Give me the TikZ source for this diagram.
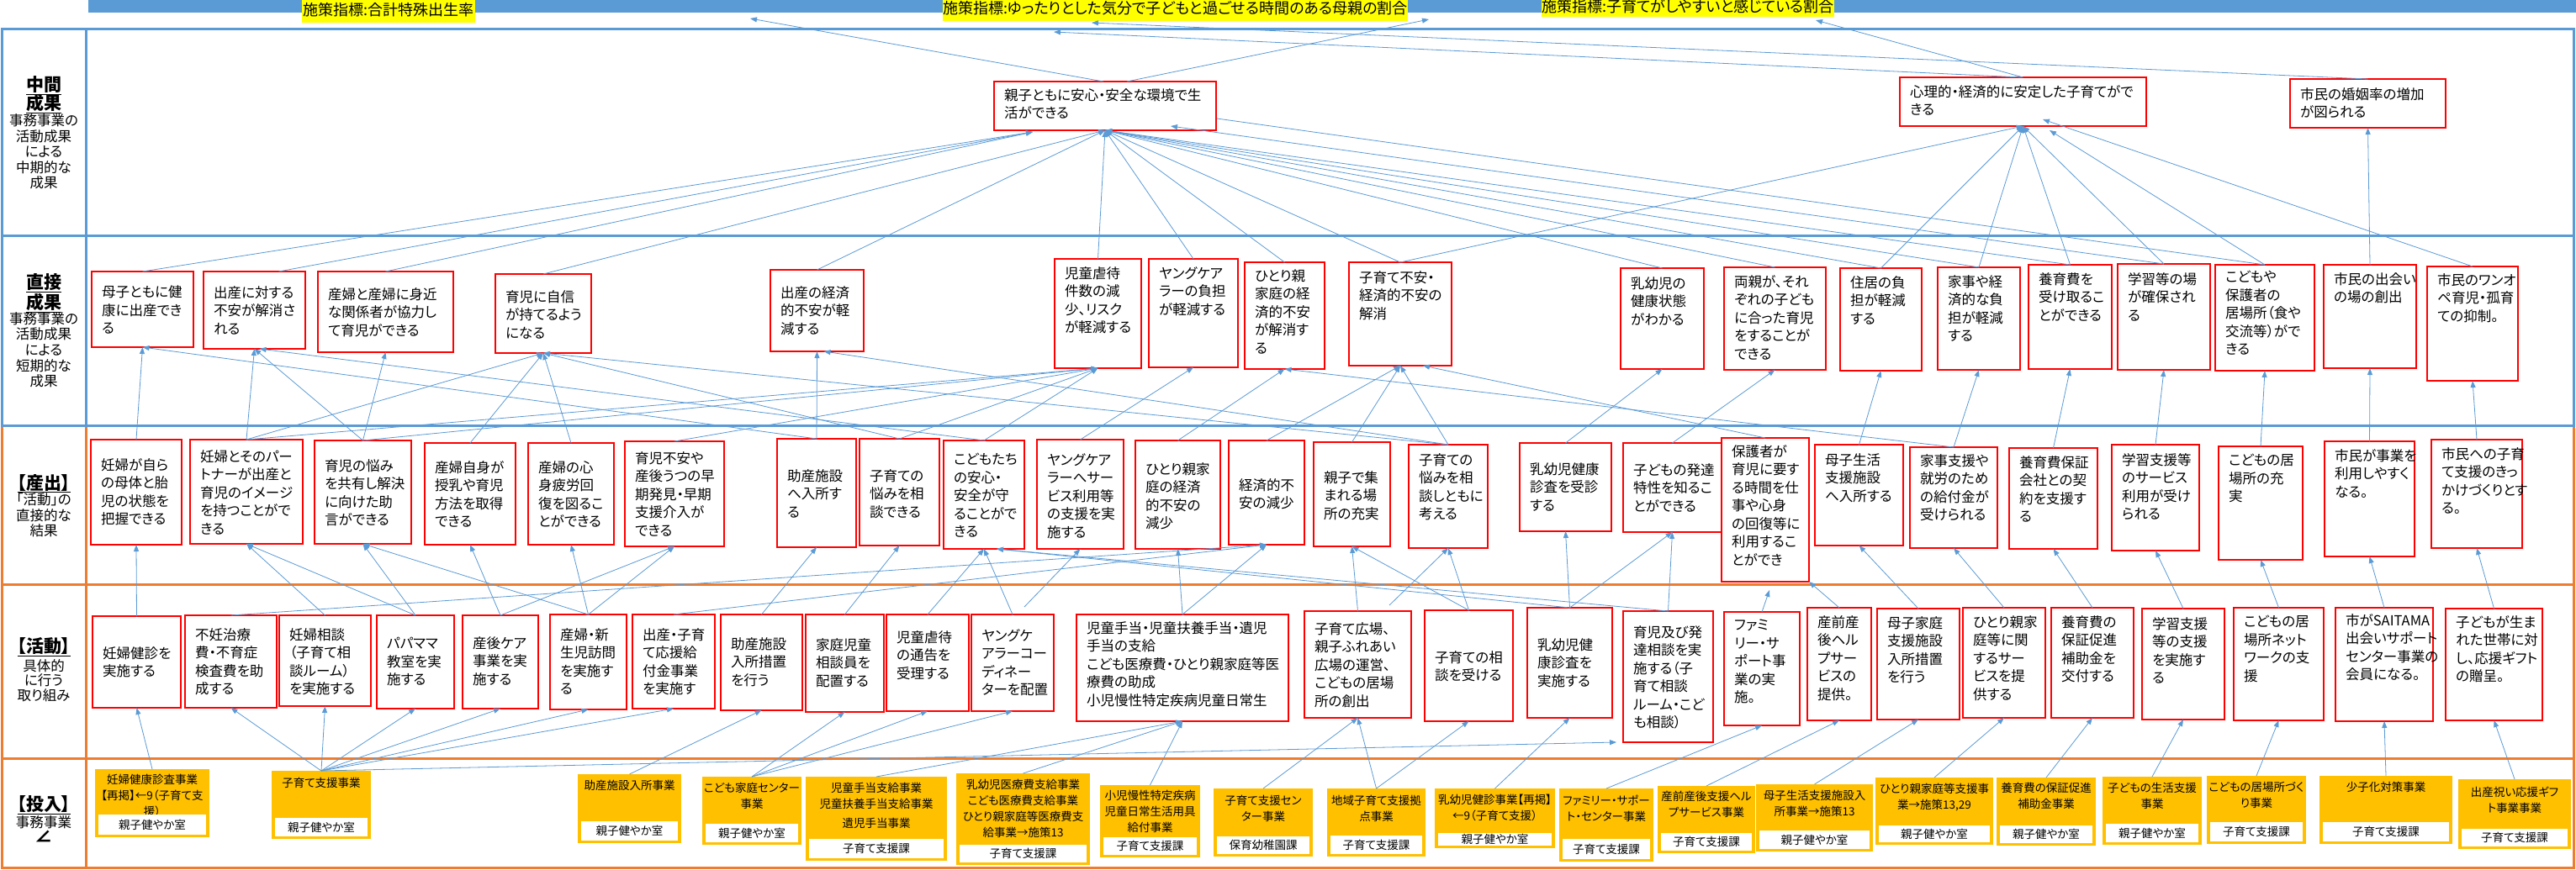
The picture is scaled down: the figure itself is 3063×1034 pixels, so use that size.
\documentclass[tikz,border=0pt]{standalone}
\usepackage{fontspec}
\setmainfont{Noto Sans CJK JP}[RawFeature=+palt]
\usetikzlibrary{arrows.meta}
\definecolor{cblue}{RGB}{91,155,213}
\definecolor{corange}{RGB}{237,125,49}
\definecolor{cgold}{RGB}{255,192,0}
\definecolor{cyel}{RGB}{255,255,0}
\tikzset{
 rbox/.style={draw=red, line width=2.8pt, fill=white, inner sep=0pt, outer sep=0pt},
 btxt/.style={inner sep=0pt, align=left, font=\fontsize{16.5}{21.5}\selectfont, anchor=north west},
 ibox/.style={fill=cgold, inner sep=0pt, outer sep=0pt},
 wbox/.style={fill=white, inner sep=0pt, outer sep=0pt},
 itxt/.style={inner sep=0pt, align=center, font=\fontsize{13.5}{19}\selectfont, anchor=north},
 dtxt/.style={inner sep=0pt, font=\fontsize{13.5}{16}\selectfont},
 con/.style={draw=cblue, line width=0.8pt, -{Triangle[length=8pt,width=6pt]}},
 plainc/.style={draw=cblue, line width=0.8pt},
 frameb/.style={draw=cblue, line width=3pt},
 frameo/.style={draw=corange, line width=3pt},
 ylab/.style={fill=cyel, inner sep=0pt, font=\fontsize{18}{20}\selectfont, anchor=north west},
 lh/.style={inner sep=0pt, font=\bfseries\fontsize{21}{24}\selectfont},
 ls/.style={inner sep=0pt, font=\fontsize{16.5}{19}\selectfont}
}
\newcommand\rb[7]{%
 \node[rbox, anchor=north west, minimum width={(#4-#2)*1pt}, minimum height={(#5-#3)*1pt}] (#1) at (#2,#3) {};
 \node[btxt] (#1t) at ({#2+12},{#6-8}) {#7};}
\newcommand\ib[9]{%
 \node[ibox, anchor=north west, minimum width={(#4-#2)*1pt}, minimum height={(#5-#3)*1pt}] (#1) at (#2,#3) {};
 \node[itxt] (#1t) at ({(#2+#4)/2},{#7-7}) {#8};
 \node[wbox, anchor=north west, minimum width={(#4-#2-8)*1pt}, minimum height={(#5-3-#6)*1pt}] (#1w) at ({#2+4},#6) {};
 \node[dtxt] (#1d) at (#1w.center) {#9};}
\begin{document}
\begin{tikzpicture}[x=1pt,y=-1pt]
\useasboundingbox (0,0) rectangle (3063,1034);
\fill[white] (0,0) rectangle (3063,1034);
% top bar and indicator labels
\fill[cblue] (105,-5) rectangle (3063,15);
\node[ylab, minimum width=206pt, minimum height=32pt] (L1) at (359,-5) {施策指標:合計特殊出生率};
\node[ylab, minimum width=524pt, minimum height=32pt] (L2) at (1121,-7) {施策指標:ゆったりとした気分で子どもと過ごせる時間のある母親の割合};
\node[ylab, minimum width=346pt, minimum height=26pt] (L3) at (1833,-6) {施策指標:子育てがしやすいと感じている割合};
% frames
\draw[frameo] (2,506) rectangle (3060,1032);
\draw[frameo] (2,695) -- (3060,695);
\draw[frameo] (2,902) -- (3060,902);
\draw[frameo] (102,506) -- (102,1032);
\draw[frameb] (2,34) rectangle (3060,506);
\draw[frameb] (2,280) -- (3060,280);
\draw[frameb] (102,34) -- (102,506);
% left headings
\node[lh] (h1a) at (52,102) {\underline{中間}};
\node[lh] (h1b) at (52,123) {\underline{成果}};
\node[ls] (h1c) at (52,143) {事務事業の};
\node[ls] (h1d) at (52,162) {活動成果};
\node[ls] (h1e) at (52,180) {による};
\node[ls] (h1f) at (52,199) {中期的な};
\node[ls] (h1g) at (52,217) {成果};
\node[lh] (h2a) at (52,337) {\underline{直接}};
\node[lh] (h2b) at (52,360) {\underline{成果}};
\node[ls] (h2c) at (52,379) {事務事業の};
\node[ls] (h2d) at (52,397) {活動成果};
\node[ls] (h2e) at (52,416) {による};
\node[ls] (h2f) at (52,435) {短期的な};
\node[ls] (h2g) at (52,453) {成果};
\node[lh] (h3a) at (52,575) {\underline{【産出】}};
\node[ls] (h3b) at (52,594) {「活動」の};
\node[ls] (h3c) at (52,613) {直接的な};
\node[ls] (h3d) at (52,631) {結果};
\node[lh] (h4a) at (52,770) {\underline{【活動】}};
\node[ls] (h4b) at (52,792) {具体的};
\node[ls] (h4c) at (52,809) {に行う};
\node[ls] (h4d) at (52,827) {取り組み};
\node[lh] (h5a) at (52,958) {\underline{【投入】}};
\node[ls] (h5b) at (52,978) {事務事業};
\node[lh] (h5c) at (52,995) {∠};
% intermediate outcomes
\rb{M1}{1182}{97}{1446}{155}{113}{親子ともに安心・安全な環境で生\\活ができる}
\rb{M2}{2259}{92}{2552}{150}{109}{心理的・経済的に安定した子育てがで\\きる}
\rb{M3}{2723}{94}{2908}{152}{112}{市民の婚姻率の増加\\が図られる}
% direct outcomes
\rb{D1}{109}{323}{230}{413}{348}{母子ともに健\\康に出産でき\\る}
\rb{D2}{242}{323}{363}{415}{348}{出産に対する\\不安が解消さ\\れる}
\rb{D3}{378}{323}{539}{419}{350}{産婦と産婦に身近\\な関係者が協力し\\て育児ができる}
\rb{D4}{589}{326}{703}{420}{353}{育児に自信\\が持てるよう\\になる}
\rb{D5}{916}{321}{1027}{418}{348}{出産の経済\\的不安が軽\\減する}
\rb{D6}{1254}{308}{1357}{438}{325}{児童虐待\\件数の減\\少、リスク\\が軽減する}
\rb{D7}{1366}{308}{1472}{437}{325}{ヤングケア\\ラーの負担\\が軽減する}
\rb{D8}{1480}{312}{1575}{439}{328}{ひとり親\\家庭の経\\済的不安\\が解消す\\る}
\rb{D9}{1604}{312}{1726}{435}{330}{子育て不安・\\経済的不安の\\解消}
\rb{D10}{1927}{319}{2026}{439}{337}{乳幼児の\\健康状態\\がわかる}
\rb{D11}{2050}{318}{2171}{440}{335}{両親が、それ\\ぞれの子ども\\に合った育児\\をすることが\\できる}
\rb{D12}{2188}{319}{2285}{441}{336}{住居の負\\担が軽減\\する}
\rb{D13}{2304}{318}{2402}{440}{335}{家事や経\\済的な負\\担が軽減\\する}
\rb{D14}{2412}{315}{2511}{439}{332}{養育費を\\受け取るこ\\とができる}
\rb{D15}{2518}{314}{2628}{440}{332}{学習等の場\\が確保され\\る}
\rb{D16}{2634}{315}{2752}{441}{330}{こどもや\\保護者の\\居場所（食や\\交流等）がで\\きる}
\rb{D17}{2763}{315}{2873}{438}{332}{市民の出会い\\の場の創出}
\rb{D18}{2886}{317}{2994}{453}{333}{市民のワンオ\\ペ育児・孤育\\ての抑制。}
% outputs
\rb{P1}{108}{523}{216}{648}{553}{妊婦が自ら\\の母体と胎\\児の状態を\\把握できる}
\rb{P2}{226}{523}{360}{647}{543}{妊婦とそのパー\\トナーが出産と\\育児のイメージ\\を持つことがで\\きる}
\rb{P3}{374}{524}{489}{647}{554}{育児の悩み\\を共有し解決\\に向けた助\\言ができる}
\rb{P4}{505}{527}{613}{648}{556}{産婦自身が\\授乳や育児\\方法を取得\\できる}
\rb{P5}{628}{527}{730}{648}{556}{産婦の心\\身疲労回\\復を図るこ\\とができる}
\rb{P6}{743}{525}{861}{650}{545}{育児不安や\\産後うつの早\\期発見・早期\\支援介入が\\できる}
\rb{P7}{924}{522}{1018}{651}{566}{助産施設\\へ入所す\\る}
\rb{P8}{1022}{522}{1117}{649}{566}{子育ての\\悩みを相\\談できる}
\rb{P9}{1122}{524}{1218}{653}{547}{こどもたち\\の安心・\\安全が守\\ることがで\\きる}
\rb{P10}{1233}{523}{1336}{653}{547}{ヤングケア\\ラーへサー\\ビス利用等\\の支援を実\\施する}
\rb{P11}{1350}{524}{1451}{653}{558}{ひとり親家\\庭の経済\\的不安の\\減少}
\rb{P12}{1461}{524}{1551}{648}{577}{経済的不\\安の減少}
\rb{P13}{1562}{526}{1653}{650}{568}{親子で集\\まれる場\\所の充実}
\rb{P14}{1675}{529}{1769}{652}{547}{子育ての\\悩みを相\\談しともに\\考える}
\rb{P15}{1807}{527}{1916}{632}{558}{乳幼児健康\\診査を受診\\する}
\rb{P16}{1930}{527}{2047}{633}{559}{子どもの発達\\特性を知るこ\\とができる}
\rb{P17}{2047}{521}{2151}{692}{537}{保護者が\\育児に要す\\る時間を仕\\事や心身\\の回復等に\\利用するこ\\とができ}
\rb{P18}{2158}{529}{2263}{649}{547}{母子生活\\支援施設\\へ入所する}
\rb{P19}{2271}{532}{2375}{652}{548}{家事支援や\\就労のため\\の給付金が\\受けられる}
\rb{P20}{2389}{533}{2494}{653}{550}{養育費保証\\会社との契\\約を支援す\\る}
\rb{P21}{2511}{529}{2615}{655}{547}{学習支援等\\のサービス\\利用が受け\\られる}
\rb{P22}{2638}{531}{2738}{666}{548}{こどもの居\\場所の充\\実}
\rb{P23}{2764}{525}{2871}{662}{542}{市民が事業を\\利用しやすく\\なる。}
\rb{P24}{2891}{523}{2999}{652}{540}{市民への子育\\て支援のきっ\\かけづくりとす\\る。}
% activities
\rb{A1}{110}{733}{215}{842}{777}{妊婦健診を\\実施する}
\rb{A2}{220}{732}{329}{842}{755}{不妊治療\\費・不育症\\検査費を助\\成する}
\rb{A3}{332}{732}{441}{840}{755}{妊婦相談\\（子育て相\\談ルーム）\\を実施する}
\rb{A4}{448}{732}{540}{843}{766}{パパママ\\教室を実\\施する}
\rb{A5}{550}{732}{640}{843}{765}{産後ケア\\事業を実\\施する}
\rb{A6}{654}{731}{745}{844}{755}{産婦・新\\生児訪問\\を実施す\\る}
\rb{A7}{752}{731}{850}{843}{755}{出産・子育\\て応援給\\付金事業\\を実施す}
\rb{A8}{857}{731}{954}{845}{766}{助産施設\\入所措置\\を行う}
\rb{A9}{958}{731}{1051}{847}{767}{家庭児童\\相談員を\\配置する}
\rb{A10}{1054}{731}{1152}{846}{758}{児童虐待\\の通告を\\受理する}
\rb{A11}{1155}{731}{1253}{846}{756}{ヤングケ\\アラーコー\\ディネー\\ターを配置}
\rb{A12}{1280}{731}{1532}{858}{747}{児童手当・児童扶養手当・遺児\\手当の支給\\こども医療費・ひとり親家庭等医\\療費の助成\\小児慢性特定疾病児童日常生}
\rb{A13}{1551}{727}{1678}{854}{748}{子育て広場、\\親子ふれあい\\広場の運営、\\こどもの居場\\所の創出}
\rb{A14}{1694}{726}{1799}{858}{782}{子育ての相\\談を受ける}
\rb{A15}{1816}{723}{1917}{854}{767}{乳幼児健\\康診査を\\実施する}
\rb{A16}{1930}{727}{2037}{883}{752}{育児及び発\\達相談を実\\施する（子\\育て相談\\ルーム・こど\\も相談）}
\rb{A17}{2050}{728}{2140}{863}{745}{ファミ\\リー・サ\\ポート事\\業の実\\施。}
\rb{A18}{2149}{723}{2225}{857}{740}{産前産\\後ヘル\\プサー\\ビスの\\提供。}
\rb{A19}{2232}{724}{2330}{856}{741}{母子家庭\\支援施設\\入所措置\\を行う}
\rb{A20}{2334}{723}{2432}{854}{740}{ひとり親家\\庭等に関\\するサー\\ビスを提\\供する}
\rb{A21}{2439}{723}{2537}{854}{740}{養育費の\\保証促進\\補助金を\\交付する}
\rb{A22}{2547}{724}{2645}{856}{742}{学習支援\\等の支援\\を実施す\\る}
\rb{A23}{2656}{723}{2763}{857}{740}{こどもの居\\場所ネット\\ワークの支\\援}
\rb{A24}{2777}{723}{2893}{858}{738}{市がSAITAMA\\出会いサポート\\センター事業の\\会員になる。}
\rb{A25}{2908}{724}{3023}{857}{740}{子どもが生ま\\れた世帯に対\\し、応援ギフト\\の贈呈。}
% inputs
\ib{I1}{113}{915}{249}{996}{969}{928}{妊婦健康診査事業\\【再掲】←9（子育て支\\援）}{親子健やか室}
\ib{I2}{323}{917}{441}{998}{973}{932}{子育て支援事業}{親子健やか室}
\ib{I3}{687}{921}{810}{1003}{977}{935}{助産施設入所事業}{親子健やか室}
\ib{I4}{835}{924}{953}{1005}{980}{938}{こども家庭センター\\事業}{親子健やか室}
\ib{I5}{958}{924}{1126}{1024}{998}{938}{児童手当支給事業\\児童扶養手当支給事業\\[4pt]遺児手当事業}{子育て支援課}
\ib{I6}{1137}{920}{1296}{1029}{1005}{934}{乳幼児医療費支給事業\\こども医療費支給事業\\ひとり親家庭等医療費支\\給事業→施策13}{子育て支援課}
\ib{I7}{1308}{934}{1427}{1020}{996}{947}{小児慢性特定疾病\\児童日常生活用具\\給付事業}{子育て支援課}
\ib{I8}{1443}{938}{1561}{1019}{995}{953}{子育て支援セン\\ター事業}{保育幼稚園課}
\ib{I9}{1578}{938}{1695}{1019}{994}{953}{地域子育て支援拠\\点事業}{子育て支援課}
\ib{I10}{1706}{938}{1849}{1009}{991}{952}{乳幼児健診事業【再掲】\\←9（子育て支援）}{親子健やか室}
\ib{I11}{1854}{938}{1966}{1025}{998}{953}{ファミリー・サポー\\ト・センター事業}{子育て支援課}
\ib{I12}{1971}{935}{2087}{1015}{991}{948}{産前産後支援ヘル\\プサービス事業}{子育て支援課}
\ib{I13}{2088}{933}{2227}{1013}{988}{947}{母子生活支援施設入\\所事業→施策13}{親子健やか室}
\ib{I14}{2230}{925}{2370}{1005}{982}{939}{ひとり親家庭等支援事\\業→施策13,29}{親子健やか室}
\ib{I15}{2374}{925}{2492}{1006}{982}{938}{養育費の保証促進\\補助金事業}{親子健やか室}
\ib{I16}{2500}{924}{2618}{1005}{980}{938}{子どもの生活支援\\事業}{親子健やか室}
\ib{I17}{2624}{923}{2742}{1004}{978}{937}{こどもの居場所づく\\り事業}{子育て支援課}
\ib{I18}{2758}{923}{2916}{1004}{978}{937}{少子化対策事業}{子育て支援課}
\ib{I19}{2923}{927}{3057}{1010}{986}{943}{出産祝い応援ギフ\\ト事業事業}{子育て支援課}
% free ends
\coordinate (t1) at (892,22);
\coordinate (t2) at (1699,23);
\coordinate (t3) at (1253,38);
\coordinate (t4) at (2159,24);
\coordinate (t5) at (1298,27);
\coordinate (m1a) at (1228,157);
\coordinate (m1b) at (1392,150);
\coordinate (m1c) at (1447,141);
\coordinate (m2b) at (2437,155);
\coordinate (m2c) at (2429,142);
\coordinate (s1) at (1218,722);
\coordinate (s2) at (1652,720);
\coordinate (e1) at (2104,702);
% connectors: intermediate -> indicators
\draw[con] ([xshift=-2pt]M1.north) -- (t1);
\draw[con] ([xshift=26pt]M1.north) -- (t2);
\draw[con] ([xshift=-2pt]M2.north) -- (t3);
\draw[con] (M2.north) -- (t4);
\draw[con] (M3.north) -- (t5);
% direct -> intermediate
\draw[con] (D1.north) -- (m1a);
\draw[con] ([xshift=29pt]D2.north) -- (m1a);
\draw[con] (D3.north) -- (m1a);
\foreach \s in {D4,D5,D6,D7,D8,D9,D10,D11,D12,D13,D14} \draw[con] (\s.north) -- (M1.south);
\draw[con] (D15.north) -- (m1b);
\draw[plainc] (D16.north) -- (m1c);
\foreach \s in {D9,D12,D13,D14,D15} \draw[con] (\s.north) -- (M2.south);
\draw[con] (D16.north) -- (m2b);
\draw[con] (D18.north) -- (m2c);
\draw[con] (D17.north) -- (M3.south);
% outputs -> direct
\draw[con] (P1.north) -- (D1.south);
\draw[con] (P2.north) -- (D2.south);
\draw[con] (P2.north) -- (D4.south);
\draw[con] (P2.north) -- (D6.south);
\draw[con] (P3.north) -- (D2.south);
\draw[con] (P3.north) -- (D3.south);
\draw[con] (P3.north) -- (D6.south);
\draw[con] (P4.north) -- (D4.south);
\draw[con] (P5.north) -- (D4.south);
\draw[con] (P6.north) -- (D6.south);
\draw[con] (P7.north) -- (D5.south);
\draw[con] (P7.north) -- (D1.south);
\draw[con] (P8.north) -- (D6.south);
\draw[con] (P8.north) -- (D4.south);
\draw[con] (P9.north) -- (D6.south);
\draw[con] (P9.north) -- ([xshift=6pt]D2.south);
\draw[con] (P10.north) -- (D7.south);
\draw[con] (P11.north) -- (D8.south);
\draw[con] (P12.north) -- (D9.south);
\draw[con] (P13.north) -- (D9.south);
\draw[con] (P14.north) -- (D9.south);
\draw[con] (P14.north) -- (D4.south);
\draw[con] (P14.north) -- ([xshift=8pt]D5.south);
\draw[con] (P15.north) -- (D10.south);
\draw[con] (P16.north) -- (D11.south);
\draw[con] (P17.north) -- ([xshift=27pt]D9.south);
\draw[con] (P18.north) -- (D12.south);
\draw[con] (P19.north) -- (D8.south);
\draw[con] (P19.north) -- (D13.south);
\draw[con] (P20.north) -- (D14.south);
\draw[con] (P21.north) -- (D15.south);
\draw[con] (P22.north) -- (D16.south);
\draw[con] (P23.north) -- (D17.south);
\draw[con] (P24.north) -- (D18.south);
% activities -> outputs
\draw[con] (A1.north) -- (P1.south);
\draw[con] (A2.north) -- (P12.south);
\draw[con] (A3.north) -- (P2.south);
\draw[con] (A4.north) -- (P2.south);
\draw[con] (A4.north) -- (P3.south);
\draw[con] (A5.north) -- (P4.south);
\draw[con] (A5.north) -- (P6.south);
\draw[con] (A6.north) -- (P3.south);
\draw[con] (A6.north) -- (P5.south);
\draw[con] (A6.north) -- (P6.south);
\draw[con] (A7.north) -- (P12.south);
\draw[con] (A8.north) -- (P7.south);
\draw[con] (A9.north) -- (P8.south);
\draw[con] (A10.north) -- (P9.south);
\draw[con] (A11.north) -- (P9.south);
\draw[con] (s1) -- (P10.south);
\draw[con] (A12.north) -- (P11.south);
\draw[con] (A12.north) -- (P12.south);
\draw[con] (A13.north) -- (P13.south);
\draw[con] (A14.north) -- (P13.south);
\draw[con] (s2) -- (P14.south);
\draw[con] (A14.north) -- (P14.south);
\draw[con] (A15.north) -- (P15.south);
\draw[con] (A15.north) -- (P16.south);
\draw[con] (A16.north) -- (P16.south);
\draw[con] (A15.north) -- ([xshift=15pt]P9.south);
\draw[con] (A16.north) -- ([xshift=15pt]P9.south);
\draw[con] (A17.north) -- (e1);
\draw[con] (A18.north) -- (P17.south east);
\draw[con] (A19.north) -- (P18.south);
\draw[con] (A20.north) -- (P19.south);
\draw[con] (A21.north) -- (P20.south);
\draw[con] (A22.north) -- (P21.south);
\draw[con] (A23.north) -- (P22.south);
\draw[con] (A24.north) -- (P23.south);
\draw[con] (A25.north) -- (P24.south);
% inputs -> activities
\draw[con] (I1.north) -- (A1.south);
\foreach \t in {A2,A3,A4,A5,A6,A7} \draw[con] (I2.north) -- (\t.south);
\draw[con] (I2.north) -- ([xshift=-8pt]A16.south west);
\draw[con] (I3.north) -- (A8.south);
\foreach \t in {A9,A10,A11} \draw[con] (I4.north) -- (\t.south);
\foreach \s in {I5,I6,I7} \draw[con] (\s.north) -- (A12.south);
\draw[con] (I8.north) -- (A13.south);
\draw[con] (I9.north) -- (A13.south);
\draw[con] (I9.north) -- (A14.south);
\draw[con] (I10.north) -- (A15.south);
\draw[con] (I11.north) -- (A17.south);
\draw[con] (I12.north) -- (A18.south);
\draw[con] (I13.north) -- (A19.south);
\draw[con] (I14.north) -- (A20.south);
\draw[con] (I15.north) -- (A21.south);
\draw[con] (I16.north) -- (A22.south);
\draw[con] (I17.north) -- (A23.south);
\draw[con] (I18.north) -- (A24.south);
\draw[con] (I19.north) -- (A25.south);
\end{tikzpicture}
\end{document}
